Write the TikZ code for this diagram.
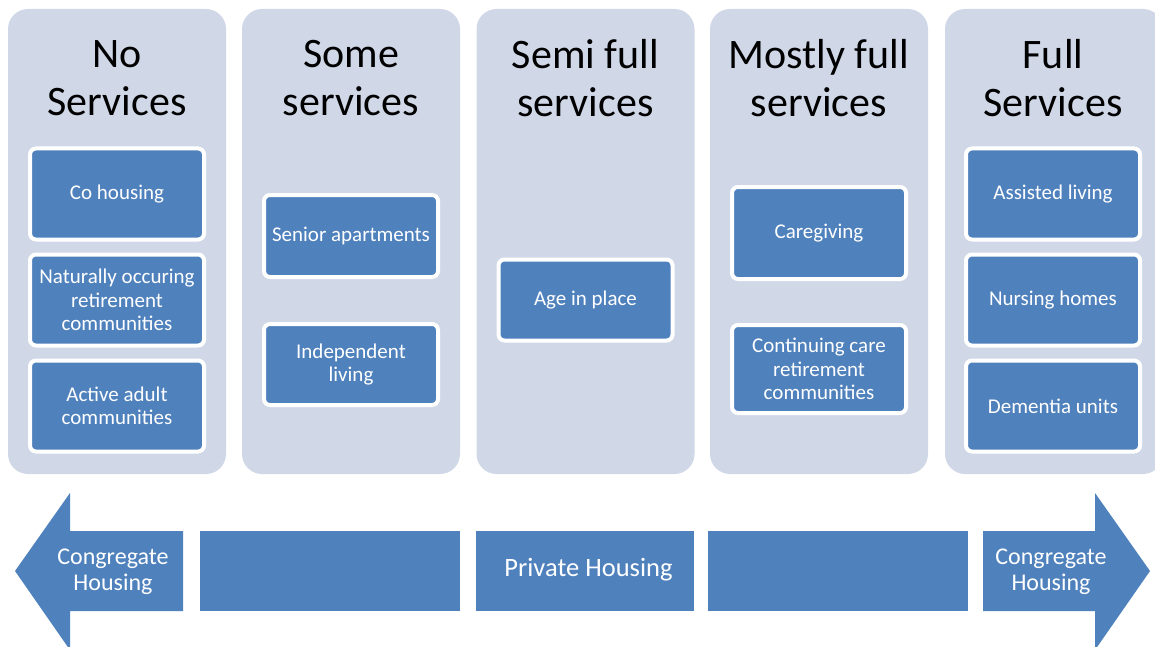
\documentclass[tikz,border=0pt]{standalone}
\usepackage{fontspec}
\setmainfont{Carlito}
\usepackage{tikz}

\definecolor{colfill}{HTML}{D0D8E8}
\definecolor{boxfill}{HTML}{4F81BD}

\tikzset{
    col/.style={fill=colfill, rounded corners=20pt, minimum width=218pt, minimum height=465pt},
    head/.style={align=center, font=\fontsize{42}{48}\selectfont},
    item/.style={fill=boxfill, draw=white, line width=4pt, rounded corners=6pt, text=white,
        align=center, minimum width=174pt, font=\fontsize{21}{23.5}\selectfont},
    bar/.style={fill=boxfill, minimum height=80pt},
    bartext/.style={text=white, align=center, font=\fontsize{24}{26}\selectfont}
}

\begin{document}
\begin{tikzpicture}[x=1pt, y=-1pt]
        \useasboundingbox (0,0) rectangle (1155,647);
        \node[col] (none) at (117,241.5){};
        \node[col] (some) at (351,241.5){};
        \node[col] (semi) at (585.5,241.5){};
        \node[col] (most) at (819,241.5){};
        \node[col] (full) at (1054,241.5){};
        \node[head] (nonet) at (117,78){No\\Services};
        \node[head] (somet) at (351,78){Some\\services};
        \node[head] (semit) at (585.5,78){Semi full\\services};
        \node[head] (mostt) at (819,78){Mostly full\\services};
        \node[head] (fullt) at (1053,78){Full\\Services};
        \node[item, minimum height=91pt] (cohouse) at (117,194){Co housing};
        \node[item, minimum height=91pt] (norc) at (117,300){Naturally occuring\\retirement\\communities};
        \node[item, minimum height=91pt] (active) at (117,406){Active adult\\communities};
        \node[item, minimum height=82pt] (senior) at (351,236){Senior apartments};
        \node[item, minimum height=81pt] (indep) at (351,364.5){Independent\\living};
        \node[item, minimum height=81pt] (age) at (585.5,300){Age in place};
        \node[item, minimum height=92pt] (care) at (819,233){Caregiving};
        \node[item, minimum height=88pt] (ccrc) at (819,369){Continuing care\\retirement\\communities};
        \node[item, minimum height=91pt] (assist) at (1053,194){Assisted living};
        \node[item, minimum height=91pt] (nursing) at (1053,300){Nursing homes};
        \node[item, minimum height=91pt] (dementia) at (1053,406){Dementia units};
        \fill[boxfill](15,571)--(70,493)--(70,531)--(183,531)--(183,611)--(70,611)--(70,650)--cycle;
        \fill[boxfill](1150,571)--(1095,493)--(1095,531)--(983,531)--(983,611)--(1095,611)--(1095,650)--cycle;
        \node[bar, minimum width=260pt] (barl) at (330,571){};
        \node[bar, minimum width=218pt] (barm) at (585,571){};
        \node[bar, minimum width=260pt] (barr) at (838,571){};
        \node[bartext] (congl) at (113,572){Congregate\\Housing};
        \node[bartext] (congr) at (1051,572){Congregate\\Housing};
        \node[bartext, font=\fontsize{26.5}{28}\selectfont] (private) at (588.5,570){Private Housing};
    \end{tikzpicture}
\end{document}
